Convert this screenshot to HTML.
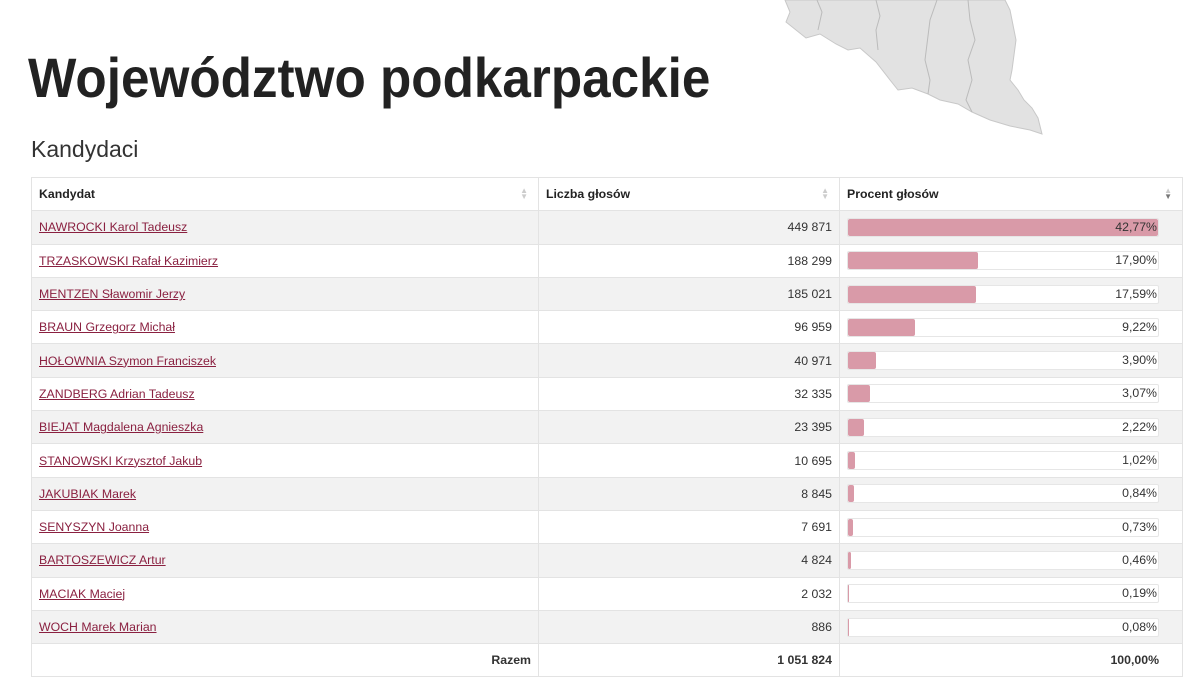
<!DOCTYPE html>
<html><head><meta charset="utf-8"><style>
body{margin:0;width:1200px;height:687px;background:#fff;font-family:"Liberation Sans",sans-serif;position:relative;overflow:hidden}
#map{position:absolute;left:0;top:0}
#title{position:absolute;left:28px;top:45px;font:bold 56px "Liberation Sans",sans-serif;color:#222;white-space:nowrap;transform-origin:0 0;transform:scaleX(0.915)}
#sub{position:absolute;left:31px;top:136px;font-size:23px;color:#333;font-family:"Liberation Sans",sans-serif}
table{position:absolute;left:31px;top:177px;width:1151px;border-collapse:collapse;font-size:12.3px;color:#333;table-layout:fixed}
td,th{height:33.3px;border:1px solid #e3e3e3;padding:0 7px;box-sizing:border-box}
th{text-align:left;font-weight:bold;color:#222;position:relative}
th span{position:absolute;right:10px;top:10px;color:#ccc;font-size:8px;line-height:6px}
tr:nth-child(odd) td{background:#f2f2f2}
td.n{text-align:right}
td.p{padding:0 23px 0 7px}
a{color:#8a2040;text-decoration:underline}
.bar{position:relative;height:17px;border:1px solid #e6e6e6;border-radius:2px;background:#fff;text-align:right;line-height:17px}
.bar i{position:absolute;left:0;top:0;bottom:0;background:#d99aa8;border-radius:2px}
.bar b{position:relative;font-weight:normal;padding-right:1px}
tfoot td{background:#fff!important;font-weight:bold;text-align:right}
</style></head><body>
<svg id="map" width="1200" height="140">
<path d="M785 0 L790 12 L786 22 L796 30 L806 38 L820 34 L836 44 L848 50 L860 48 L876 62 L890 80 L898 90 L912 88 L928 94 L940 100 L958 104 L972 112 L990 120 L1010 126 L1030 130 L1042 134 L1038 118 L1032 108 L1024 100 L1018 90 L1010 80 L1012 70 L1016 40 L1010 10 L1005 0 Z" fill="#e2e2e2" stroke="#c8c8c8" stroke-width="1"/>
<path d="M817 0 L822 12 L818 30 M876 0 L880 16 L876 30 L878 50 M937 0 L930 20 L925 60 L930 80 L928 94 M968 0 L970 20 L975 40 L968 60 L972 80 L966 100 L972 112" fill="none" stroke="#bbb"/>
</svg>
<div id="title">Województwo podkarpackie</div>
<div id="sub">Kandydaci</div>
<table>
<colgroup><col style="width:507px"><col style="width:301px"><col style="width:343px"></colgroup>
<thead><tr><th>Kandydat<span>▲<br>▼</span></th><th>Liczba głosów<span>▲<br>▼</span></th><th>Procent głosów<span>▲<br><b style="color:#777">▼</b></span></th></tr></thead>
<tbody>
<tr><td><a>NAWROCKI Karol Tadeusz</a></td><td class="n">449 871</td><td class="p"><div class="bar"><i style="width:100%"></i><b>42,77%</b></div></td></tr>
<tr><td><a>TRZASKOWSKI Rafał Kazimierz</a></td><td class="n">188 299</td><td class="p"><div class="bar"><i style="width:41.85%"></i><b>17,90%</b></div></td></tr>
<tr><td><a>MENTZEN Sławomir Jerzy</a></td><td class="n">185 021</td><td class="p"><div class="bar"><i style="width:41.13%"></i><b>17,59%</b></div></td></tr>
<tr><td><a>BRAUN Grzegorz Michał</a></td><td class="n">96 959</td><td class="p"><div class="bar"><i style="width:21.56%"></i><b>9,22%</b></div></td></tr>
<tr><td><a>HOŁOWNIA Szymon Franciszek</a></td><td class="n">40 971</td><td class="p"><div class="bar"><i style="width:9.12%"></i><b>3,90%</b></div></td></tr>
<tr><td><a>ZANDBERG Adrian Tadeusz</a></td><td class="n">32 335</td><td class="p"><div class="bar"><i style="width:7.18%"></i><b>3,07%</b></div></td></tr>
<tr><td><a>BIEJAT Magdalena Agnieszka</a></td><td class="n">23 395</td><td class="p"><div class="bar"><i style="width:5.19%"></i><b>2,22%</b></div></td></tr>
<tr><td><a>STANOWSKI Krzysztof Jakub</a></td><td class="n">10 695</td><td class="p"><div class="bar"><i style="width:2.38%"></i><b>1,02%</b></div></td></tr>
<tr><td><a>JAKUBIAK Marek</a></td><td class="n">8 845</td><td class="p"><div class="bar"><i style="width:1.96%"></i><b>0,84%</b></div></td></tr>
<tr><td><a>SENYSZYN Joanna</a></td><td class="n">7 691</td><td class="p"><div class="bar"><i style="width:1.71%"></i><b>0,73%</b></div></td></tr>
<tr><td><a>BARTOSZEWICZ Artur</a></td><td class="n">4 824</td><td class="p"><div class="bar"><i style="width:1.08%"></i><b>0,46%</b></div></td></tr>
<tr><td><a>MACIAK Maciej</a></td><td class="n">2 032</td><td class="p"><div class="bar"><i style="width:0.44%"></i><b>0,19%</b></div></td></tr>
<tr><td><a>WOCH Marek Marian</a></td><td class="n">886</td><td class="p"><div class="bar"><i style="width:0.19%"></i><b>0,08%</b></div></td></tr>
</tbody>
<tfoot><tr><td>Razem</td><td>1 051 824</td><td style="padding-right:23px">100,00%</td></tr></tfoot>
</table>
</body></html>
